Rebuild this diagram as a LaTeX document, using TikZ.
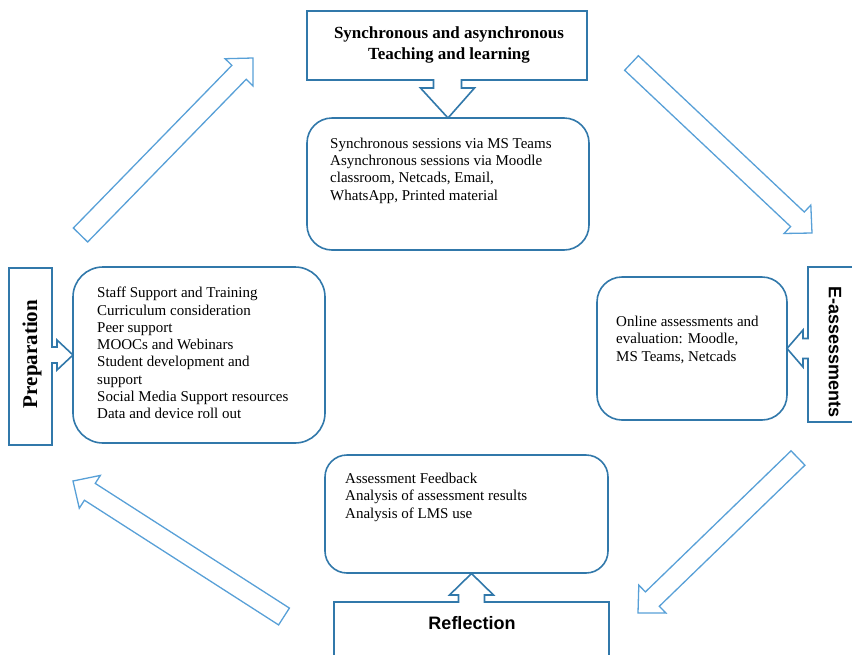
\documentclass[tikz,border=0pt]{standalone}
\usepackage{fontspec}
\setmainfont{Liberation Serif}
\newfontfamily\arialfont{Liberation Sans}
\usetikzlibrary{calc}
\definecolor{boxblue}{RGB}{49,120,170}
\definecolor{arrowblue}{RGB}{88,160,215}
\tikzset{
 boxline/.style={draw=boxblue, line width=1.6pt},
 titlebox/.style={boxline, rectangle, inner sep=0pt, outer sep=0pt, fill=white},
 roundbox/.style={boxline, rectangle, rounded corners=#1, inner sep=0pt, outer sep=0pt},
 bodytext/.style={anchor=north west, inner sep=0pt, align=left, font=\fontsize{15}{17.3}\selectfont},
 diagarrow/.style={draw=arrowblue, line width=1.3pt, line join=miter},
}
\newcommand\blockarrow[2]{%
 \coordinate (#1-b) at ($(#2)!20pt!(#1)$);
 \draw[diagarrow] ($(#1)!10pt!90:(#2)$) -- ($(#1-b)!10pt!90:(#2)$) -- ($(#1-b)!19.5pt!90:(#2)$) -- (#2) -- ($(#1-b)!19.5pt!-90:(#2)$) -- ($(#1-b)!10pt!-90:(#2)$) -- ($(#1)!10pt!-90:(#2)$) -- cycle;
}
\begin{document}
\begin{tikzpicture}[x=1pt,y=-1pt]
\useasboundingbox (0,0) rectangle (852,654);
\clip (0,0) rectangle (852,654);

% top
\node[titlebox, minimum width=280pt, minimum height=69pt] (ttl) at (447,45.5) {};
\node[font=\bfseries\fontsize{17}{21}\selectfont, align=center] (ttltext) at (449,45) {Synchronous and asynchronous\\Teaching and learning};
\node[roundbox=25pt, minimum width=282pt, minimum height=132pt] (sync) at (448,184) {};
\node[bodytext] (synctext) at (330,137.5) {Synchronous sessions via MS Teams\\Asynchronous sessions via Moodle\\classroom, Netcads, Email,\\WhatsApp, Printed material};

% left
\node[titlebox, minimum width=43pt, minimum height=177pt] (prep) at (30.5,356.5) {};
\node[rotate=90, font=\bfseries\fontsize{21}{25}\selectfont] (preptext) at (32,354) {Preparation};
\node[roundbox=30pt, minimum width=252pt, minimum height=176pt] (prepbox) at (199,355) {};
\node[bodytext] (prepitems) at (97,287) {Staff Support and Training\\Curriculum consideration\\Peer support\\MOOCs and Webinars\\Student development and\\support\\Social Media Support resources\\Data and device roll out};

% right
\node[titlebox, minimum width=62pt, minimum height=155pt] (eas) at (839,344.5) {};
\node[rotate=-90, font=\arialfont\bfseries\fontsize{18}{22}\selectfont] (eastext) at (835,352) {E-assessments};
\node[roundbox=25pt, minimum width=190pt, minimum height=143pt] (ebox) at (692,348.5) {};
\node[bodytext] (eitems) at (616,316) {Online assessments and\\evaluation: Moodle,\\MS Teams, Netcads};

% bottom
\node[titlebox, minimum width=275pt, minimum height=78pt] (refl) at (471.5,641) {};
\node[font=\arialfont\bfseries\fontsize{18}{22}\selectfont] (refltext) at (472,623) {Reflection};
\node[roundbox=22pt, minimum width=283pt, minimum height=118pt] (rbox) at (466.5,514) {};
\node[bodytext] (ritems) at (345,473) {Assessment Feedback\\Analysis of assessment results\\Analysis of LMS use};

% small connector arrows
\draw[boxline, fill=white] ($(ttl.south)+(-13.5,-0.8)$) -- ($(ttl.south)+(-13.5,8)$) -- ($(ttl.south)+(-26.5,8)$) -- (sync.north) -- ($(ttl.south)+(27.5,8)$) -- ($(ttl.south)+(14.5,8)$) -- ($(ttl.south)+(14.5,-0.8)$);
\draw[boxline, fill=white] ($(prepbox.west)+(-21.8,-8)$) -- ($(prepbox.west)+(-16,-8)$) -- ($(prepbox.west)+(-16,-15)$) -- (prepbox.west) -- ($(prepbox.west)+(-16,15)$) -- ($(prepbox.west)+(-16,8)$) -- ($(prepbox.west)+(-21.8,8)$);
\draw[boxline, fill=white] ($(ebox.east)+(21.8,-10)$) -- ($(ebox.east)+(16,-10)$) -- ($(ebox.east)+(16,-18.5)$) -- (ebox.east) -- ($(ebox.east)+(16,18.5)$) -- ($(ebox.east)+(16,10)$) -- ($(ebox.east)+(21.8,10)$);
\draw[boxline, fill=white] ($(refl.north)+(-13,0.8)$) -- ($(refl.north)+(-13,-7)$) -- ($(refl.north)+(-22,-7)$) -- ($(refl.north)+(0,-28.5)$) -- ($(refl.north)+(22,-7)$) -- ($(refl.north)+(13,-7)$) -- ($(refl.north)+(13,0.8)$);

% diagonal block arrows
\coordinate (ulT) at (80.5,235); \coordinate (ulP) at (253,58);
\coordinate (urT) at (631.5,63); \coordinate (urP) at (812,233);
\coordinate (lrT) at (798,458); \coordinate (lrP) at (638,613);
\coordinate (llT) at (284,616.5); \coordinate (llP) at (73,481);
\blockarrow{ulT}{ulP}
\blockarrow{urT}{urP}
\blockarrow{lrT}{lrP}
\blockarrow{llT}{llP}
\end{tikzpicture}
\end{document}
